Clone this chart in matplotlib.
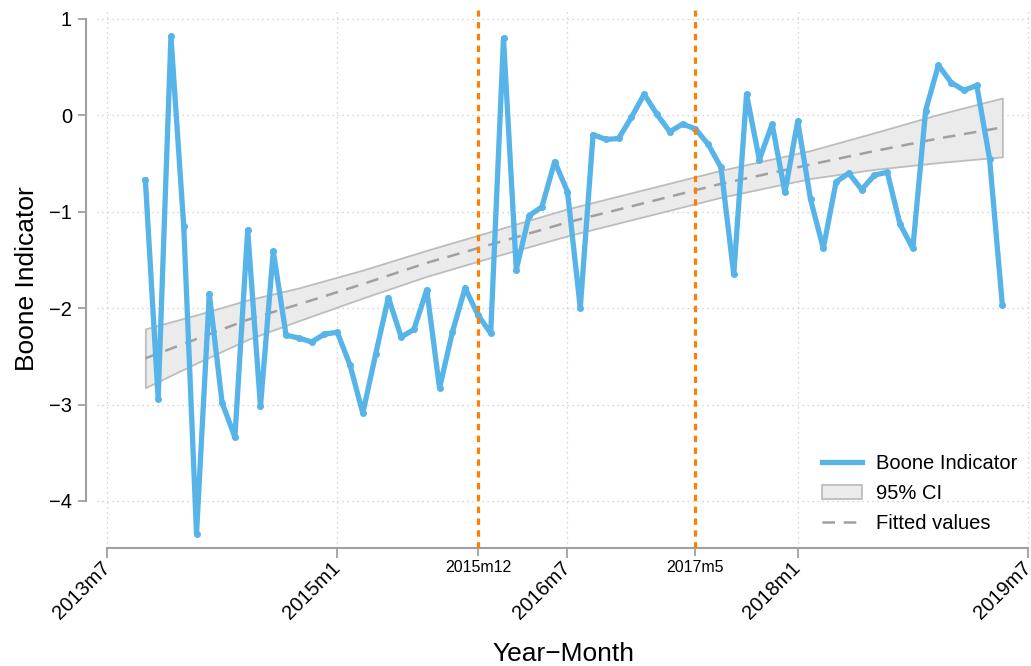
import matplotlib
matplotlib.use("Agg")
import matplotlib.pyplot as plt
import numpy as np
from matplotlib.patches import Patch
from matplotlib.lines import Line2D

plt.rcParams['font.family'] = ['Liberation Sans', 'DejaVu Sans']

# months counted from 2013m7 (=0), Stata %tm style
months = np.arange(3, 71)
boone = [-0.67, -2.94, 0.82, -1.15, -4.34, -1.85, -2.98, -3.34, -1.19, -3.02,
         -1.41, -2.28, -2.31, -2.35, -2.27, -2.25, -2.59, -3.09, -2.48, -1.89,
         -2.30, -2.22, -1.81, -2.83, -2.25, -1.79, -2.07, -2.26, 0.80, -1.60,
         -1.04, -0.95, -0.48, -0.79, -2.00, -0.20, -0.25, -0.24, -0.02, 0.22,
         0.01, -0.17, -0.09, -0.14, -0.30, -0.54, -1.65, 0.22, -0.46, -0.09,
         -0.80, -0.06, -0.87, -1.38, -0.69, -0.60, -0.77, -0.62, -0.59, -1.13,
         -1.38, 0.05, 0.52, 0.34, 0.26, 0.31, -0.45, -1.97]

# fitted values and 95% CI (quadratic fit)
fit_months = [3, 7, 11, 15, 20, 25, 30, 36, 42, 48, 55, 60, 65, 70]
fitted = [-2.52, -2.32, -2.12, -1.96, -1.75, -1.53, -1.34, -1.11, -0.91, -0.71,
          -0.51, -0.37, -0.24, -0.125]
ci_upper = [-2.215, -2.07, -1.915, -1.79, -1.605, -1.40, -1.205, -0.97, -0.77, -0.57,
            -0.365, -0.18, 0.01, 0.18]
ci_lower = [-2.825, -2.57, -2.325, -2.13, -1.895, -1.67, -1.475, -1.25, -1.05, -0.85,
            -0.655, -0.56, -0.49, -0.43]

major_ticks = [0, 18, 36, 54, 72]
event_ticks = [29, 46]
yticks = [1, 0, -1, -2, -3, -4]


def tm_label(m):
    return f"{2013 + (6 + m) // 12}m{(6 + m) % 12 + 1}"


fig = plt.figure(figsize=(10.31, 6.66), dpi=100)
ax = fig.add_axes([97 / 1031, 118 / 666, 933 / 1031, 538 / 666])

blue = '#56B4E9'
grey_fill = '#EBEBEB'
grey_edge = '#BDBDBD'
ax.fill_between(fit_months, ci_lower, ci_upper, facecolor=grey_fill, edgecolor=grey_edge,
                linewidth=1.3, zorder=2)
ax.plot(fit_months, fitted, color='#A0A0A0', linestyle=(0, (5, 3.5)), linewidth=1.8, zorder=3)
ax.plot(months, boone, color=blue, linewidth=3.8, marker='o', markersize=4,
        solid_joinstyle='round', zorder=4)
for t in event_ticks:
    ax.axvline(t, color='#FF8000', linestyle=(0, (2, 1.7)), linewidth=2.3, zorder=5)

ax.set_xlim(-0.78, 72.16)
ax.set_ylim(-4.488, 1.093)

ax.set_xticks(major_ticks, [tm_label(m) for m in major_ticks])
ax.set_xticks(event_ticks, [tm_label(m) for m in event_ticks], minor=True)
ax.set_yticks(yticks)
ax.tick_params(axis='x', which='major', labelrotation=45, labelsize=14.5, length=7,
               width=1.3, color='#A0A0A0', pad=5)
for lab in ax.get_xticklabels():
    lab.set_ha('right')
    lab.set_va('center')
    lab.set_rotation_mode('anchor')
ax.tick_params(axis='x', which='minor', labelsize=11.5, length=6, width=1.3,
               color='#A0A0A0', pad=3)
ax.tick_params(axis='y', labelsize=14.5, length=6, width=1.3, color='#A0A0A0', pad=4)

ax.grid(True, which='major', linestyle=(0, (1, 3)), color='#C8C8C8', linewidth=0.9)
for s in ['top', 'right']:
    ax.spines[s].set_visible(False)
for s in ['left', 'bottom']:
    ax.spines[s].set_color('#A0A0A0')
    ax.spines[s].set_linewidth(1.5)
ax.spines['left'].set_position(('outward', 8))
ax.spines['left'].set_bounds(-4, 1)
ax.spines['bottom'].set_bounds(0, 72)

ax.set_ylabel('Boone Indicator', fontsize=19, labelpad=7)
ax.set_xlabel('Year\u2212Month', fontsize=19, labelpad=14)

handles = [Line2D([], [], color=blue, linewidth=3.8),
           Patch(facecolor=grey_fill, edgecolor=grey_edge, linewidth=1.3),
           Line2D([], [], color='#A0A0A0', linestyle=(0, (5, 3.5)), linewidth=1.8)]
ax.legend(handles, ['Boone Indicator', '95% CI', 'Fitted values'], loc='lower right',
          bbox_to_anchor=(1.006, -0.006), frameon=False, fontsize=14.5, handlelength=2.0,
          handletextpad=0.7, labelspacing=0.55)

fig.savefig('out.png', dpi=100)
